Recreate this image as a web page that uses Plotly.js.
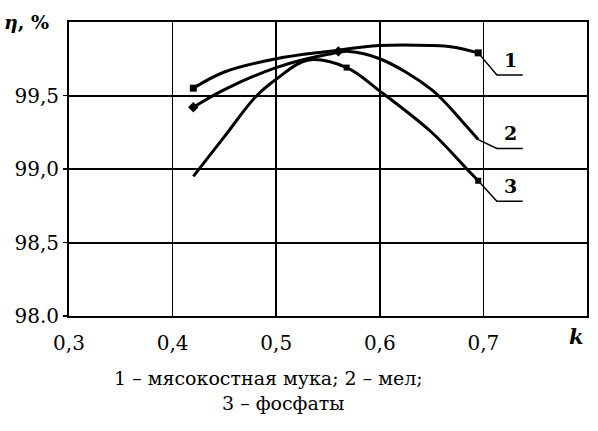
<!DOCTYPE html>
<html>
<head>
<meta charset="utf-8">
<script src="https://cdn.plot.ly/plotly-3.0.1.min.js"></script>
<style>html,body{margin:0;padding:0;background:#fff;}#chart{width:598px;height:431px;}</style>
</head>
<body>
<div id="chart"></div>
<script>
// Curve data (k, η %)
var k1 = [0.42, 0.45, 0.50, 0.55, 0.60, 0.65, 0.67, 0.695];
var eta1 = [99.55, 99.66, 99.75, 99.80, 99.84, 99.84, 99.83, 99.79];
var k2 = [0.42, 0.45, 0.50, 0.55, 0.57, 0.60, 0.65, 0.68, 0.695];
var eta2 = [99.42, 99.54, 99.69, 99.78, 99.80, 99.75, 99.54, 99.32, 99.20];
var k3 = [0.42, 0.45, 0.48, 0.50, 0.53, 0.568, 0.60, 0.65, 0.684, 0.695];
var eta3 = [98.95, 99.22, 99.49, 99.61, 99.74, 99.69, 99.53, 99.25, 99.00, 98.92];

// Marked points
var m1k = [0.42, 0.695], m1y = [99.55, 99.79];
var m2k = [0.42, 0.56], m2y = [99.42, 99.80];
var m3k = [0.568, 0.695], m3y = [99.69, 98.92];

var curveLabels = ["1", "2", "3"];
var xTickVals = [0.3, 0.4, 0.5, 0.6, 0.7];
var xTickText = ["0,3", "0,4", "0,5", "0,6", "0,7"];
var yTickVals = [98.0, 98.5, 99.0, 99.5];
var yTickText = ["98.0", "98,5", "99,0", "99,5"];
var captionLine1 = "1 – мясокостная мука; 2 – мел;";
var captionLine2 = "3 – фосфаты";

var SERIF = 'DejaVu Serif';

var ends = [[0.695, eta1[eta1.length-1]], [0.695, eta2[eta2.length-1]], [0.695, eta3[eta3.length-1]]];
var leaderDrop = [0.15, 0.06, 0.14];

var traces = [];
function curve(x, y) {
  return {x: x, y: y, mode: 'lines', type: 'scatter', line: {color: '#000', width: 3, shape: 'spline', smoothing: 1}, hoverinfo: 'none'};
}
traces.push(curve(k1, eta1), curve(k2, eta2), curve(k3, eta3));
traces.push({x: m1k, y: m1y, mode: 'markers', type: 'scatter', marker: {symbol: 'square', size: 7, color: '#000'}});
traces.push({x: m2k, y: m2y, mode: 'markers', type: 'scatter', marker: {symbol: 'diamond', size: 8, color: '#000'}});
traces.push({x: m3k, y: m3y, mode: 'markers', type: 'scatter', marker: {symbol: 'square', size: 6, color: '#000'}});

var annotations = [];
for (var i = 0; i < 3; i++) {
  var ex = ends[i][0], ey = ends[i][1], ly = ey - leaderDrop[i];
  traces.push({x: [ex, ex + 0.018, ex + 0.043], y: [ey, ly, ly], mode: 'lines', type: 'scatter', line: {color: '#000', width: 1.5}, hoverinfo: 'none'});
  annotations.push({x: ex + 0.031, y: ly, yshift: 2, xref: 'x', yref: 'y', text: '<b>' + curveLabels[i] + '</b>', showarrow: false, yanchor: 'bottom', font: {family: SERIF, size: 19, color: '#000'}});
}

annotations.push({xref: 'paper', yref: 'paper', x: -0.13, y: 1.0, xanchor: 'left', yanchor: 'middle', text: '<b><i>η</i>, %</b>', showarrow: false, font: {family: SERIF, size: 19, color: '#000'}});
annotations.push({xref: 'paper', yref: 'paper', x: 0.98, y: -0.07, xanchor: 'center', yanchor: 'middle', text: '<b><i>k</i></b>', showarrow: false, font: {family: SERIF, size: 21, color: '#000'}});
annotations.push({xref: 'paper', yref: 'paper', x: 0.386, y: -0.21, xanchor: 'center', yanchor: 'middle', text: captionLine1, showarrow: false, font: {family: SERIF, size: 19, color: '#000'}});
annotations.push({xref: 'paper', yref: 'paper', x: 0.413, y: -0.295, xanchor: 'center', yanchor: 'middle', text: captionLine2, showarrow: false, font: {family: SERIF, size: 19, color: '#000'}});

var layout = {
  width: 598, height: 431,
  margin: {l: 69, r: 11, t: 22, b: 115},
  paper_bgcolor: '#fff', plot_bgcolor: '#fff',
  showlegend: false,
  font: {family: SERIF, color: '#000'},
  xaxis: {range: [0.3, 0.8], tickvals: xTickVals, ticktext: xTickText, showgrid: true, gridcolor: '#000', gridwidth: 1.5,
          showline: true, linecolor: '#000', linewidth: 2, mirror: true, zeroline: false, ticks: '', ticklabelstandoff: 8,
          tickfont: {family: SERIF, size: 20, color: '#000'}},
  yaxis: {range: [98.0, 100.0], tickvals: yTickVals, ticktext: yTickText, showgrid: true, gridcolor: '#000', gridwidth: 2,
          showline: true, linecolor: '#000', linewidth: 2, mirror: true, zeroline: false, ticks: 'outside', ticklen: 4, tickwidth: 1.5, tickcolor: '#000',
          tickfont: {family: SERIF, size: 20, color: '#000'}},
  annotations: annotations
};
Plotly.newPlot('chart', traces, layout, {displayModeBar: false, staticPlot: true});
</script>
</body>
</html>
